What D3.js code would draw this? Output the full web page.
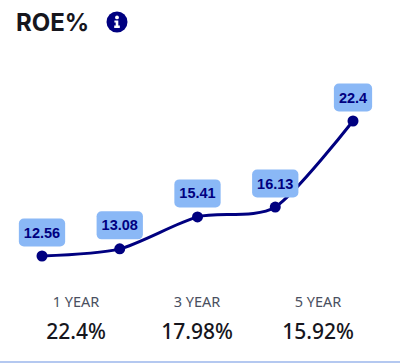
<!DOCTYPE html>
<html>
<head>
<meta charset="utf-8">
<script src="https://cdn.jsdelivr.net/npm/d3@7"></script>
<style>
  html, body { margin: 0; padding: 0; background: #fff; }
  svg { display: block; }
  .title { font: 700 24px Inter, sans-serif; fill: #16161d; }
  .curve { fill: none; stroke: #000080; stroke-width: 3; }
  .dot { fill: #000080; }
  .tag rect { fill: #8ab8f6; }
  .tag text { font: bold 14.5px "Liberation Sans", sans-serif; fill: #000080; text-anchor: middle; }
  .period { font: 14.5px "Noto Sans", sans-serif; fill: #4a4f60; text-anchor: middle; }
  .ret { font: 500 21px "Noto Sans", sans-serif; fill: #16161d; text-anchor: middle; }
</style>
</head>
<body>
<svg width="400" height="363"></svg>
<script>
const roeValues = [12.56, 13.08, 15.41, 16.13, 22.4]
const roeLabels = ['12.56', '13.08', '15.41', '16.13', '22.4']
const periods = ['1 YEAR', '3 YEAR', '5 YEAR']
const returns = ['22.4%', '17.98%', '15.92%']

const xScale = d3.scaleLinear([0, 4], [42, 353])
const yScale = d3.scaleLinear([12.56, 22.4], [256, 121])
const periodScale = d3.scalePoint(periods, [76, 318])

const svg = d3.select('svg')

svg.append('text')
    .attr('class', 'title')
    .attr('x', 16)
    .attr('y', 31)
    .text('ROE%')

// info icon
const info = svg.append('g').attr('transform', 'translate(117,22)')
info.append('circle').attr('r', 10.5).attr('fill', '#000080')
info.append('circle').attr('cy', -4.6).attr('r', 1.9).attr('fill', '#fff')
info.append('path')
    .attr('d', 'M-2.6,-1.6H1.3V3.6H2.8V6H-2.8V3.6H-1.3V0.6H-2.6Z')
    .attr('fill', '#fff')

const line = d3.line()
    .x((d, i) => xScale(i))
    .y(d => yScale(d))
    .curve(d3.curveCardinal.tension(0.25))

svg.append('path')
    .attr('class', 'curve')
    .attr('d', line(roeValues))

svg.append('g').selectAll('circle')
.data(roeValues)
.enter().append('circle')
    .attr('class', 'dot')
    .attr('r', 5.5)
    .attr('cx', (d, i) => xScale(i))
    .attr('cy', d => yScale(d))

const tags = svg.append('g').selectAll('g')
.data(roeValues)
.enter().append('g')
    .attr('class', 'tag')
    .attr('transform', (d, i) => `translate(${xScale(i)},${yScale(d) - 9.5})`)

tags.append('text')
    .attr('y', -9)
    .text((d, i) => roeLabels[i])

// box size follows the text
tags.each(function() {
    const g = d3.select(this)
    const w = g.select('text').node().getBBox().width + 10
    g.insert('rect', 'text')
        .attr('x', -w / 2)
        .attr('y', -28)
        .attr('width', w)
        .attr('height', 28)
        .attr('rx', 5)
})

svg.append('g').selectAll('text')
.data(periods)
.enter().append('text')
    .attr('class', 'period')
    .attr('x', d => periodScale(d))
    .attr('y', 307)
    .text(d => d)

svg.append('g').selectAll('text')
.data(returns)
.enter().append('text')
    .attr('class', 'ret')
    .attr('x', (d, i) => periodScale(periods[i]))
    .attr('y', 339)
    .text(d => d)

svg.append('rect')
    .attr('x', 0)
    .attr('y', 361)
    .attr('width', 400)
    .attr('height', 2)
    .attr('fill', '#b4c8f0')
</script>
</body>
</html>
